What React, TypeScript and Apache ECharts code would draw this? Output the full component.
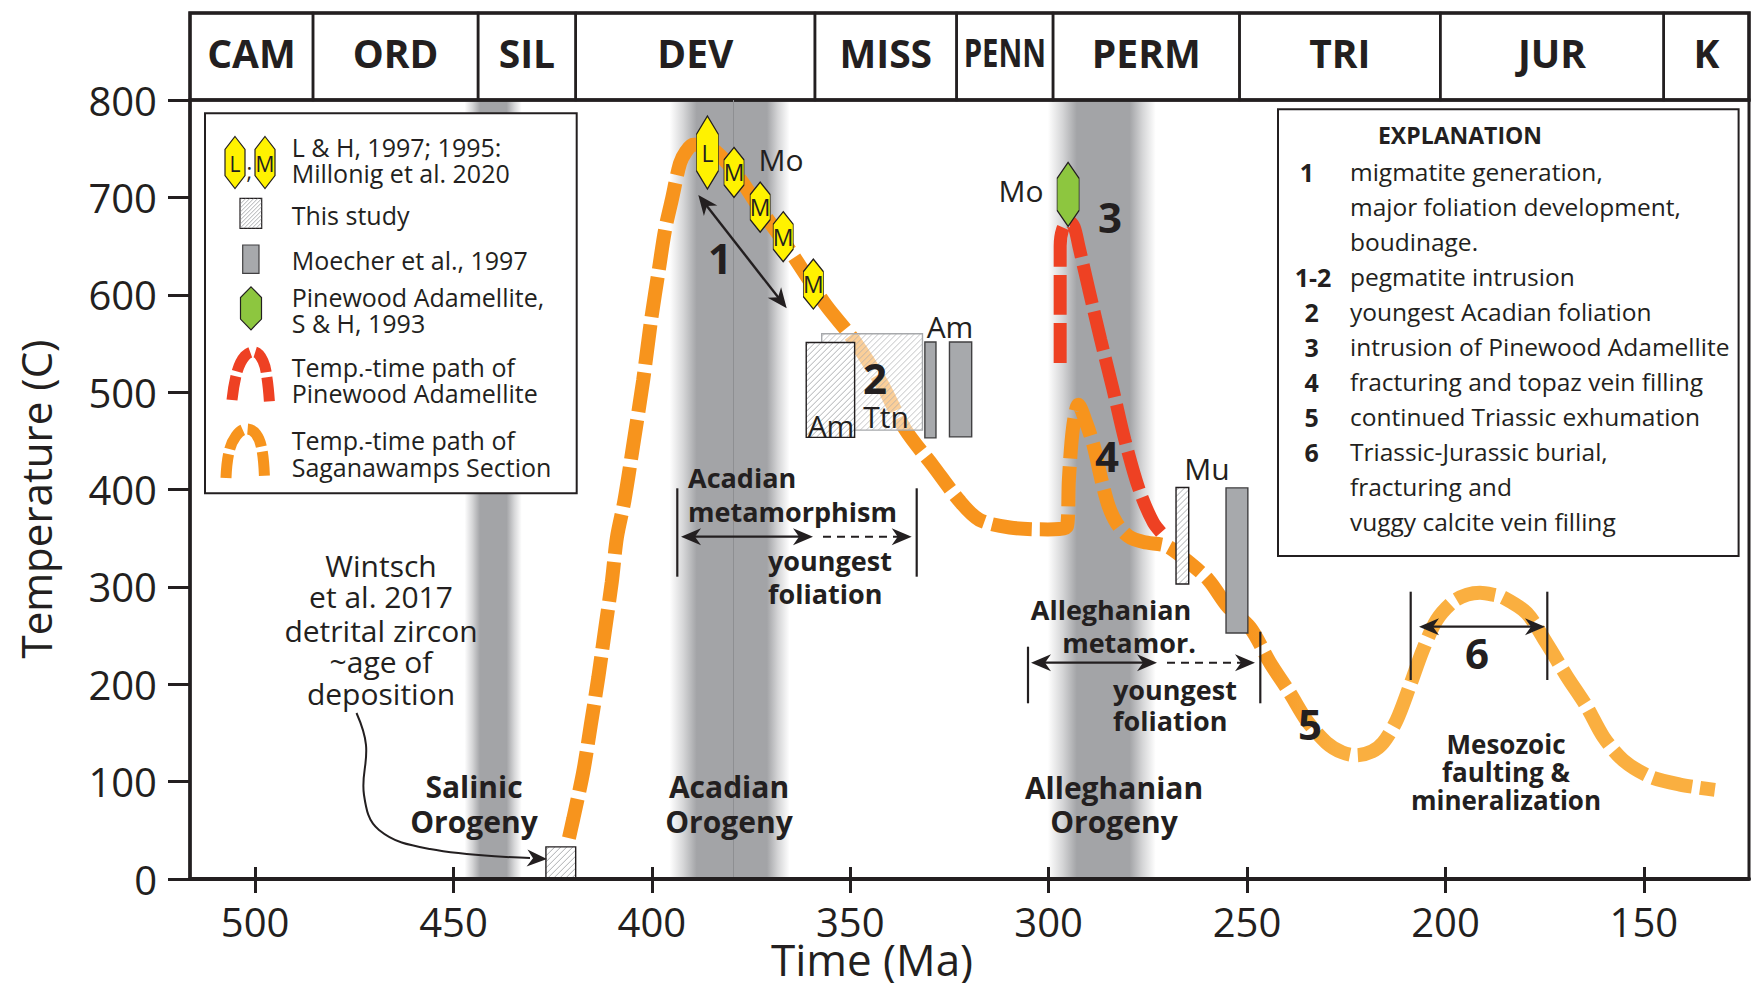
import React, { useEffect, useRef } from 'react';
import * as echarts from 'echarts';

// ---------- DATA ----------
// Geologic periods (Ma)
const periodNames = ['CAM', 'ORD', 'SIL', 'DEV', 'MISS', 'PENN', 'PERM', 'TRI', 'JUR', 'K'];
const periodStart = [541, 485.4, 443.8, 419.2, 358.9, 323.2, 298.9, 251.9, 201.3, 145];
const periodEnd = [485.4, 443.8, 419.2, 358.9, 323.2, 298.9, 251.9, 201.3, 145, 66];

// Orogeny shading bands (Ma)
const orogenyNames = ['Salinic', 'Acadian', 'Alleghanian'];
const orogenyStart = [447.2, 395.5, 300.2];
const orogenyEnd = [432.8, 365.3, 273.0];
const orogenyCoreStart = [443.3, 388.7, 292.9];
const orogenyCoreEnd = [436.6, 371.0, 279.6];
const acadianDivide = [379.5];

// Temp.-time path of Saganawamps Section
const sagAge = [420.9, 419.8, 417.3, 415.4, 413.5, 411.8, 410.1, 408.8, 406.9, 404.5,
  402.2, 400.2, 398.2, 396.7, 395.0, 392.9, 391.4, 389.6, 386.3, 382.8,
  377.8, 372.7, 366.0, 361.0, 355.9, 349.2, 342.0, 336.2, 329.1, 322.4,
  317.5, 309.8, 300.2, 295.4, 294.9, 293.9, 292.5, 290.5, 288.6, 286.7,
  284.8, 282.8, 279.9, 276.1, 270.3, 265.5, 259.7, 254.9, 249.2, 244.2,
  239.2, 235.0, 230.0, 226.0, 222.4, 218.5, 215.7, 212.3, 209.0, 205.6,
  202.2, 198.0, 194.5, 191.3, 188.0, 185.4, 179.5, 174.5, 169.4, 164.4,
  160.2, 155.2, 148.4, 140.9, 132.1];
const sagTemp = [42, 62, 110, 158, 207, 256, 305, 351, 389, 451,
  512, 574, 627, 666, 697, 735, 747, 754, 753, 743,
  719, 688, 650, 619, 588, 554, 508, 462, 424, 388,
  369, 361, 359, 362, 410, 462, 487, 468, 444, 410,
  382, 365, 352, 346, 342, 328, 307, 280, 258, 222,
  191, 163, 140, 130, 127, 131, 140, 163, 198, 236,
  266, 285, 292, 294, 292, 289, 273, 242, 208, 177,
  146, 122, 105, 97, 91.5];

// Temp.-time path of Pinewood Adamellite
const pineAge = [297.1, 297.1, 297.1, 296.5, 295.0, 293.6, 292.4, 289.9, 286.9, 283.8, 280.8, 277.2, 273.6, 270.6];
const pineTemp = [530, 590, 650, 667, 676, 670, 650, 606, 554, 503, 451, 400, 366, 351];

// L & H / Millonig monazite ages
const hexAge = [386.0, 379.3, 372.7, 366.9, 359.3];
const hexTemp = [746, 725.6, 690, 659.6, 611];
const hexLabel = ['L', 'M', 'M', 'M', 'M'];
// Pinewood Adamellite (S & H, 1993)
const pinewoodAge = [295.1];
const pinewoodTemp = [703];

// Age boxes: kind 0 = this study (hatched), 1 = this study titanite (light), 2 = Moecher et al.
const boxStart = [426.7, 357.2, 361.1, 267.9, 331.2, 325.0, 255.3];
const boxEnd = [419.2, 331.8, 348.9, 264.7, 328.4, 319.4, 249.8];
const boxLow = [0, 461, 453.5, 303, 453, 454, 252.6];
const boxHigh = [33, 560, 551, 402, 551.5, 551.5, 401.7];
const boxKind = [0, 1, 0, 0, 2, 2, 2];

const xTickValues = [500, 450, 400, 350, 300, 250, 200, 150];

// ---------- STYLE ----------
const FONT = '"Open Sans", "Noto Sans", sans-serif';
const INK = '#231F20';
const X_MIN = 123.5;
const X_MAX = 516.4;
const HEX_PATH = 'path://M10,0L20,12.5L20,37.5L10,50L0,37.5L0,12.5Z';

let measureCtx: CanvasRenderingContext2D | null = null;
function textWidth(t: string, font: string) {
  if (!measureCtx) measureCtx = document.createElement('canvas').getContext('2d');
  if (!measureCtx) return t.length * 20;
  measureCtx.font = font;
  return measureCtx.measureText(t).width;
}

function hatch(x0: number, y0: number, w: number, h: number, spacing: number, color: string, lw: number) {
  const x1 = x0 + w, y1 = y0 + h;
  const out: any[] = [];
  for (let c = x0 + y0 + spacing / 2; c < x1 + y1; c += spacing) {
    const xa = Math.max(x0, c - y1);
    const xb = Math.min(x1, c - y0);
    if (xb > xa) out.push({ type: 'line', shape: { x1: xa, y1: c - xa, x2: xb, y2: c - xb }, style: { stroke: color, lineWidth: lw } });
  }
  return out;
}

function hexPoints(cx: number, cy: number, w: number, h: number) {
  const t = h * 0.25;
  return [[cx, cy - h / 2], [cx + w / 2, cy - h / 2 + t], [cx + w / 2, cy + h / 2 - t], [cx, cy + h / 2], [cx - w / 2, cy + h / 2 - t], [cx - w / 2, cy - h / 2 + t]];
}

function arrowHead(tx: number, ty: number, angle: number, len = 20, half = 8.5, notch = 14) {
  const c = Math.cos(angle), s = Math.sin(angle);
  const bx = tx - c * len, by = ty - s * len;
  const nx = tx - c * notch, ny = ty - s * notch;
  return { type: 'polygon', z: 60, shape: { points: [[tx, ty], [bx - s * half, by + c * half], [nx, ny], [bx + s * half, by - c * half]] }, style: { fill: INK } };
}

function txt(x: number, y: number, text: string, size: number, bold = false, align = 'center') {
  return { type: 'text', x, y, z: 60, style: { text, fontSize: size, fontFamily: FONT, fontWeight: bold ? 'bold' : 'normal', fill: INK, align, verticalAlign: 'middle' } };
}

function ln(x1: number, y1: number, x2: number, y2: number, w = 2.2, dash?: number[]) {
  const style: any = { stroke: INK, lineWidth: w };
  if (dash) style.lineDash = dash;
  return { type: 'line', z: 60, shape: { x1, y1, x2, y2 }, style };
}

function buildGraphic() {
  const G: any[] = [];
  // ---- legend box ----
  G.push({ type: 'rect', z: 55, shape: { x: 205, y: 113.3, width: 371.7, height: 380 }, style: { fill: '#ffffff', stroke: INK, lineWidth: 2 } });
  G.push({ type: 'polygon', z: 60, shape: { points: hexPoints(235, 162.5, 20, 52) }, style: { fill: '#FFF200', stroke: INK, lineWidth: 1.2 } });
  G.push(txt(235, 164, 'L', 21));
  G.push(txt(249.5, 170, ';', 22));
  G.push({ type: 'polygon', z: 60, shape: { points: hexPoints(265, 162.5, 20, 52) }, style: { fill: '#FFF200', stroke: INK, lineWidth: 1.2 } });
  G.push(txt(265, 164, 'M', 21));
  const legendLines: [string, number][] = [
    ['L & H, 1997; 1995:', 146.7], ['Millonig et al. 2020', 172.7], ['This study', 215], ['Moecher et al., 1997', 260],
    ['Pinewood Adamellite,', 297.3], ['S & H, 1993', 323.3], ['Temp.-time path of', 366.7], ['Pinewood Adamellite', 393.3],
    ['Temp.-time path of', 440], ['Saganawamps Section', 466.7],
  ];
  legendLines.forEach(([t, y]) => G.push(txt(291.7, y, t, 25, false, 'left')));
  G.push({ type: 'rect', z: 60, shape: { x: 240, y: 198.3, width: 21.7, height: 30 }, style: { fill: '#ffffff', stroke: INK, lineWidth: 1.2 } });
  hatch(240, 198.3, 21.7, 30, 4, '#8A8C8F', 0.7).forEach((h) => G.push({ ...h, z: 61 }));
  G.push({ type: 'rect', z: 60, shape: { x: 242.7, y: 245, width: 16.3, height: 28.3 }, style: { fill: '#A7A9AC', stroke: '#414042', lineWidth: 1.2 } });
  G.push({ type: 'polygon', z: 60, shape: { points: hexPoints(251, 308.3, 21, 43) }, style: { fill: '#8DC63F', stroke: INK, lineWidth: 1.2 } });
  G.push({ type: 'polyline', z: 60, shape: { points: [[232, 400], [237, 372], [245, 356], [255, 352], [263, 361], [267, 378], [269.5, 403]], smooth: 0.4 }, style: { stroke: '#EE4123', lineWidth: 11, lineDash: [24, 5], fill: null } });
  G.push({ type: 'polyline', z: 60, shape: { points: [[226, 478], [229, 452], [236, 436], [246, 429], [256, 434], [262, 450], [264.5, 479]], smooth: 0.4 }, style: { stroke: '#F7941D', lineWidth: 11, lineDash: [24, 5], fill: null } });

  // ---- explanation box ----
  G.push({ type: 'rect', z: 55, shape: { x: 1278, y: 109.3, width: 460.6, height: 446.7 }, style: { fill: '#ffffff', stroke: INK, lineWidth: 2 } });
  G.push(txt(1460, 135, 'EXPLANATION', 23, true));
  const expNums: [string, number, number][] = [['1', 1307, 171.7], ['1-2', 1313, 276.7], ['2', 1311.7, 311.7], ['3', 1311.7, 346.7], ['4', 1311.7, 381.7], ['5', 1311.7, 416.7], ['6', 1311.7, 451.7]];
  expNums.forEach(([t, x, y]) => G.push(txt(x, y, t, 25, true)));
  const expLines: [string, number][] = [
    ['migmatite generation,', 171.7], ['major foliation development,', 206.7], ['boudinage.', 241.7],
    ['pegmatite intrusion', 276.7], ['youngest Acadian foliation', 311.7], ['intrusion of Pinewood Adamellite', 346.7],
    ['fracturing and topaz vein filling', 381.7], ['continued Triassic exhumation', 416.7], ['Triassic-Jurassic burial,', 451.7],
    ['fracturing and', 486.7], ['vuggy calcite vein filling', 521.7],
  ];
  expLines.forEach(([t, y]) => G.push(txt(1350, y, t, 24.5, false, 'left')));

  // ---- annotations ----
  G.push(txt(781, 159, 'Mo', 30));
  G.push(txt(1021, 190, 'Mo', 30));
  const nums: [string, number, number][] = [['1', 720, 257], ['2', 875, 377], ['3', 1110, 216], ['4', 1107, 455], ['5', 1310, 723], ['6', 1477, 652]];
  nums.forEach(([t, x, y]) => G.push(txt(x, y, t, 42, true)));
  G.push(txt(950, 326.7, 'Am', 30));
  G.push(txt(831, 425, 'Am', 30));
  G.push(txt(886, 416.7, 'Ttn', 30));
  G.push(txt(1207, 468.3, 'Mu', 30));
  const orog: [string, number, number][] = [['Salinic', 474, 786.7], ['Orogeny', 474, 821.7], ['Acadian', 729, 786.7], ['Orogeny', 729, 821.7], ['Alleghanian', 1114, 787.7], ['Orogeny', 1114, 821]];
  orog.forEach(([t, x, y]) => G.push(txt(x, y, t, 30, true)));
  G.push(txt(688, 477, 'Acadian', 27, true, 'left'));
  G.push(txt(688, 511, 'metamorphism', 27, true, 'left'));
  G.push(txt(768, 560, 'youngest', 27, true, 'left'));
  G.push(txt(768, 593, 'foliation', 27, true, 'left'));
  G.push(txt(1111, 609, 'Alleghanian', 27, true));
  G.push(txt(1129, 642, 'metamor.', 27, true));
  G.push(txt(1113, 689, 'youngest', 27, true, 'left'));
  G.push(txt(1113, 720.7, 'foliation', 27, true, 'left'));
  G.push(txt(1506, 744, 'Mesozoic', 26, true));
  G.push(txt(1506, 772, 'faulting &', 26, true));
  G.push(txt(1506, 800, 'mineralization', 26, true));
  const wint: [string, number][] = [['Wintsch', 565], ['et al. 2017', 596.7], ['detrital zircon', 630], ['~age of', 661.7], ['deposition', 693.3]];
  wint.forEach(([t, y]) => G.push(txt(381, y, t, 30)));

  // arrow 1 (diagonal, double headed)
  const ax = 698.3, ay = 195, bx = 786.7, by = 308.3;
  const th = Math.atan2(by - ay, bx - ax);
  G.push(ln(ax + Math.cos(th) * 12, ay + Math.sin(th) * 12, bx - Math.cos(th) * 12, by - Math.sin(th) * 12, 2.4));
  G.push(arrowHead(bx, by, th));
  G.push(arrowHead(ax, ay, th + Math.PI));
  // Acadian metamorphism
  G.push(ln(677.3, 488.3, 677.3, 576.7));
  G.push(ln(916.7, 488.3, 916.7, 576.7));
  G.push(ln(690, 536.7, 803, 536.7, 2.2));
  G.push(arrowHead(681, 536.7, Math.PI));
  G.push(arrowHead(813, 536.7, 0));
  G.push(ln(823, 536.7, 900, 536.7, 2, [8, 6]));
  G.push(arrowHead(911.7, 536.7, 0));
  // Alleghanian metamorphism
  G.push(ln(1028, 646.7, 1028, 703.3));
  G.push(ln(1260.3, 631.7, 1260.3, 703.3));
  G.push(ln(1040, 662.7, 1147, 662.7, 2.2));
  G.push(arrowHead(1031, 662.7, Math.PI));
  G.push(arrowHead(1157, 662.7, 0));
  G.push(ln(1167, 662.7, 1243, 662.7, 2, [8, 6]));
  G.push(arrowHead(1255, 662.7, 0));
  // 6 arrow
  G.push(ln(1410.7, 591.7, 1410.7, 680));
  G.push(ln(1547.3, 591.7, 1547.3, 680));
  G.push(ln(1429, 626.7, 1535, 626.7, 2.2));
  G.push(arrowHead(1419, 626.7, Math.PI));
  G.push(arrowHead(1545, 626.7, 0));
  // Wintsch curved arrow
  G.push({ type: 'polyline', z: 60, shape: { points: [[356.5, 713], [366, 745], [364, 795], [379, 830], [430, 849], [530, 858]], smooth: 0.4 }, style: { stroke: INK, lineWidth: 2, fill: null } });
  G.push(arrowHead(547, 859, 0.05));

  // axis titles
  G.push({ type: 'text', x: 35, y: 499, rotation: Math.PI / 2, z: 60, style: { text: 'Temperature (C)', fontSize: 42, fontFamily: FONT, fill: INK, align: 'center', verticalAlign: 'middle' } });
  G.push(txt(872, 959, 'Time (Ma)', 44));
  return G;
}

function buildOption() {
  const bandColor = '163,164,167';
  const boxStyles = [
    { fill: '#ffffff', stroke: INK, hatch: '#8A8C8F' },
    { fill: 'rgba(255,255,255,0.55)', stroke: '#A7A9AC', hatch: '#A7A9AC' },
    { fill: '#A7A9AC', stroke: '#414042', hatch: null },
  ];
  const orangeGrad = new echarts.graphic.LinearGradient(0, 0, 1, 0, [
    { offset: 0, color: '#F7941D' }, { offset: 0.59, color: '#F7941D' },
    { offset: 0.67, color: '#FAAF40' }, { offset: 1, color: '#FAAF40' },
  ]);
  return {
    animation: false,
    backgroundColor: '#ffffff',
    textStyle: { fontFamily: FONT },
    grid: [
      { left: 190, right: 3, top: 100, bottom: 104, show: true, borderColor: INK, borderWidth: 3, backgroundColor: 'transparent', z: 5, outerBoundsMode: 'none', containLabel: false },
      { left: 190, right: 3, top: 13, height: 87, show: true, borderColor: INK, borderWidth: 3.5, backgroundColor: 'transparent', z: 5, outerBoundsMode: 'none', containLabel: false },
    ],
    xAxis: [
      {
        gridIndex: 0, type: 'value', min: X_MIN, max: X_MAX, inverse: true, position: 'bottom', z: 6,
        axisLine: { show: true, lineStyle: { color: INK, width: 4 } },
        axisTick: { show: true, inside: false, length: 14, lineStyle: { color: INK, width: 3 }, customValues: xTickValues },
        axisLabel: { show: true, customValues: xTickValues, fontSize: 40, color: INK, fontFamily: FONT, margin: 22 },
        splitLine: { show: false },
      },
      {
        gridIndex: 0, type: 'value', min: X_MIN, max: X_MAX, inverse: true, position: 'bottom', offset: 0, z: 6,
        axisLine: { show: false },
        axisTick: { show: true, inside: true, length: 12, lineStyle: { color: INK, width: 3 }, customValues: xTickValues },
        axisLabel: { show: false },
        splitLine: { show: false },
      },
      { gridIndex: 1, type: 'value', min: X_MIN, max: X_MAX, inverse: true, show: false },
    ],
    yAxis: [
      {
        gridIndex: 0, type: 'value', min: 0, max: 800, interval: 100, z: 6,
        axisLine: { show: true, lineStyle: { color: INK, width: 3.5 } },
        axisTick: { show: true, inside: false, length: 22, lineStyle: { color: INK, width: 3 } },
        axisLabel: { fontSize: 40, color: INK, fontFamily: FONT, margin: 33 },
        splitLine: { show: false },
      },
      { gridIndex: 1, type: 'value', min: 0, max: 1, show: false },
    ],
    series: [
      {
        type: 'custom', name: 'orogenies', xAxisIndex: 0, yAxisIndex: 0, z: 1, silent: true,
        data: orogenyNames.map((n, i) => [orogenyStart[i], orogenyEnd[i], orogenyCoreStart[i], orogenyCoreEnd[i]]),
        renderItem: (params: any, api: any) => {
          const s = api.value(0), e = api.value(1), cs = api.value(2), ce = api.value(3);
          const p0 = api.coord([s, 800]);
          const p1 = api.coord([e, 0]);
          const f1 = (s - cs) / (s - e), f2 = (s - ce) / (s - e);
          return {
            type: 'rect',
            shape: { x: p0[0], y: p0[1], width: p1[0] - p0[0], height: p1[1] - p0[1] },
            style: {
              fill: new echarts.graphic.LinearGradient(0, 0, 1, 0, [
                { offset: 0, color: `rgba(${bandColor},0)` },
                { offset: f1 * 0.5, color: `rgba(${bandColor},0.45)` },
                { offset: f1, color: `rgba(${bandColor},1)` },
                { offset: f2, color: `rgba(${bandColor},1)` },
                { offset: f2 + (1 - f2) * 0.5, color: `rgba(${bandColor},0.45)` },
                { offset: 1, color: `rgba(${bandColor},0)` },
              ]),
            },
          };
        },
        markLine: {
          silent: true, symbol: ['none', 'none'], label: { show: false },
          lineStyle: { color: '#8E8F92', width: 1, type: 'solid' },
          data: acadianDivide.map((v) => ({ xAxis: v })),
        },
      },
      {
        type: 'custom', name: 'periods', xAxisIndex: 2, yAxisIndex: 1, z: 4, silent: true,
        data: periodNames.map((n, i) => [i, periodStart[i], periodEnd[i]]),
        renderItem: (params: any, api: any) => {
          const i = api.value(0), s = api.value(1), e = api.value(2);
          const cs = params.coordSys;
          const a = api.coord([s, 1]), b = api.coord([e, 0]);
          const x1 = Math.max(Math.min(a[0], b[0]), cs.x);
          const x2 = Math.min(Math.max(a[0], b[0]), cs.x + cs.width);
          const name = periodNames[i];
          const tw = textWidth(name, 'bold 39px "Open Sans"');
          const avail = x2 - x1 - 14;
          const sx = tw > avail ? avail / tw : 1;
          return {
            type: 'group',
            children: [
              { type: 'rect', shape: { x: x1, y: cs.y, width: x2 - x1, height: cs.height }, style: { fill: 'none', stroke: INK, lineWidth: 2.5 } },
              { type: 'text', x: (x1 + x2) / 2, y: cs.y + cs.height / 2 - 4.5, scaleX: sx, style: { text: name, fontSize: 39, fontWeight: 'bold', fontFamily: FONT, fill: INK, align: 'center', verticalAlign: 'middle' } },
            ],
          };
        },
      },
      {
        type: 'line', name: 'Saganawamps Section', xAxisIndex: 0, yAxisIndex: 0, z: 3, silent: true,
        data: sagAge.map((a, i) => [a, sagTemp[i]]),
        symbol: 'none', showSymbol: false, smooth: 0.3,
        itemStyle: { color: '#F7941D' },
        lineStyle: { width: 14, type: [40, 8], cap: 'butt', color: orangeGrad },
      },
      {
        type: 'line', name: 'Pinewood Adamellite', xAxisIndex: 0, yAxisIndex: 0, z: 4, silent: true,
        data: pineAge.map((a, i) => [a, pineTemp[i]]),
        symbol: 'none', showSymbol: false, smooth: 0.3,
        itemStyle: { color: '#EE4123' },
        lineStyle: { width: 13, type: [40, 8], cap: 'butt', color: '#EE4123' },
      },
      {
        type: 'custom', name: 'ages', xAxisIndex: 0, yAxisIndex: 0, z: 5, silent: true,
        data: boxStart.map((s, i) => [s, boxEnd[i], boxLow[i], boxHigh[i], boxKind[i]]),
        renderItem: (params: any, api: any) => {
          const s = api.value(0), e = api.value(1), lo = api.value(2), hi = api.value(3), k = api.value(4);
          const p0 = api.coord([s, hi]);
          const p1 = api.coord([e, lo]);
          const x = p0[0], y = p0[1], w = p1[0] - p0[0], h = p1[1] - p0[1];
          const st = boxStyles[k];
          const children: any[] = [{ type: 'rect', shape: { x, y, width: w, height: h }, style: { fill: st.fill, stroke: 'none' } }];
          if (st.hatch) hatch(x, y, w, h, 6, st.hatch, 0.7).forEach((l) => children.push(l));
          children.push({ type: 'rect', shape: { x, y, width: w, height: h }, style: { fill: 'none', stroke: st.stroke, lineWidth: 1.4 } });
          return { type: 'group', children };
        },
      },
      {
        type: 'scatter', name: 'L & H; Millonig', xAxisIndex: 0, yAxisIndex: 0, z: 6, silent: true,
        data: hexAge.map((a, i) => ({ value: [a, hexTemp[i]], name: hexLabel[i] })),
        symbol: HEX_PATH,
        symbolSize: (v: any, p: any) => (p && p.name === 'L' ? [22, 73] : [20, 50]),
        itemStyle: { color: '#FFF200', borderColor: INK, borderWidth: 1.2, opacity: 1 },
        label: { show: true, position: 'inside', formatter: '{b}', fontSize: 23, color: INK, fontFamily: FONT },
      },
      {
        type: 'scatter', name: 'Pinewood Adamellite S & H', xAxisIndex: 0, yAxisIndex: 0, z: 6, silent: true,
        data: pinewoodAge.map((a, i) => [a, pinewoodTemp[i]]),
        symbol: HEX_PATH, symbolSize: [22, 64],
        itemStyle: { color: '#8DC63F', borderColor: INK, borderWidth: 1.2, opacity: 1 },
      },
    ],
    graphic: { elements: buildGraphic() },
  };
}

export default function App() {
  const ref = useRef<HTMLDivElement>(null);
  useEffect(() => {
    if (!ref.current) return;
    const chart = echarts.init(ref.current, null, { renderer: 'svg' });
    chart.setOption(buildOption() as any);
    return () => chart.dispose();
  }, []);
  return <div ref={ref} style={{ position: 'absolute', left: 0, top: 0, width: 1752, height: 983, background: '#ffffff' }} />;
}
